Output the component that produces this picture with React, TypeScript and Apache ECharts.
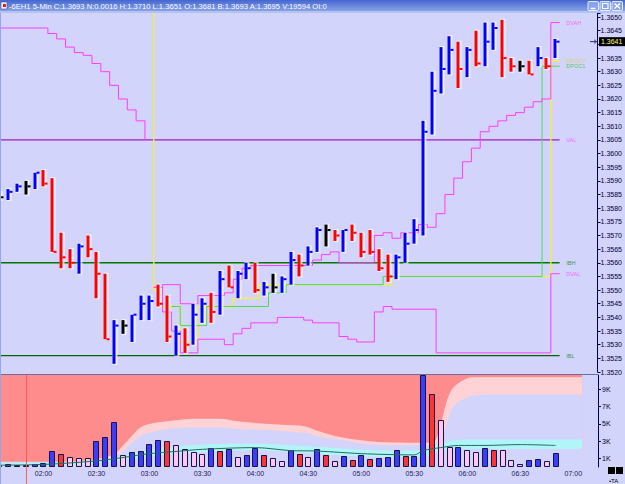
import React, { useEffect, useRef } from 'react';
import * as echarts from 'echarts';

// ---------------- data ----------------
const titleText = '-6EH1 5-Min C:1.3693 N:0.0016 H:1.3710 L:1.3651 O:1.3681 B:1.3693 A:1.3695 V:19594 OI:0';

const barTimes = [
  '01:35', '01:40', '01:45', '01:50', '01:55', '02:00', '02:05', '02:10', '02:15', '02:20',
  '02:25', '02:30', '02:35', '02:40', '02:45', '02:50', '02:55', '03:00', '03:05', '03:10',
  '03:15', '03:20', '03:25', '03:30', '03:35', '03:40', '03:45', '03:50', '03:55', '04:00',
  '04:05', '04:10', '04:15', '04:20', '04:25', '04:30', '04:35', '04:40', '04:45', '04:50',
  '04:55', '05:00', '05:05', '05:10', '05:15', '05:20', '05:25', '05:30', '05:35', '05:40',
  '05:45', '05:50', '05:55', '06:00', '06:05', '06:10', '06:15', '06:20', '06:25', '06:30',
  '06:35', '06:40', '06:45', '06:50',
];
const opens = [
  1.3584, 1.3583, 1.3586, 1.3588, 1.3587, 1.3593, 1.3590, 1.3570, 1.3564, 1.3558,
  1.3569, 1.3563, 1.3555, 1.3530, 1.3537, 1.3532, 1.3540, 1.3540, 1.3551, 1.3547,
  1.3527, 1.3535, 1.3531, 1.3539, 1.3548, 1.3542, 1.3558, 1.3548, 1.3555, 1.3559,
  1.3549, 1.3551, 1.3550, 1.3553, 1.3562, 1.3560, 1.3565, 1.3572, 1.3572, 1.3565,
  1.3574, 1.3570, 1.3571, 1.3564, 1.3562, 1.3555, 1.3561, 1.3567, 1.3572, 1.3608,
  1.3623, 1.3630, 1.3640, 1.3630, 1.3644, 1.3633, 1.3640, 1.3648, 1.3635, 1.3632,
  1.3633, 1.3632, 1.3634, 1.3635,
];
const highs = [
  1.3586, 1.3587, 1.3589, 1.3590, 1.3593, 1.3594, 1.3591, 1.3571, 1.3565, 1.3567,
  1.3570, 1.3564, 1.3556, 1.3539, 1.3539, 1.3541, 1.3548, 1.3548, 1.3552, 1.3548,
  1.3537, 1.3536, 1.3545, 1.3547, 1.3549, 1.3557, 1.3559, 1.3557, 1.3560, 1.3560,
  1.3553, 1.3556, 1.3555, 1.3564, 1.3563, 1.3566, 1.3573, 1.3574, 1.3572, 1.3572,
  1.3574, 1.3571, 1.3572, 1.3565, 1.3563, 1.3563, 1.3571, 1.3576, 1.3612, 1.3630,
  1.3639, 1.3643, 1.3641, 1.3639, 1.3645, 1.3648, 1.3648, 1.3649, 1.3635, 1.3634,
  1.3634, 1.3639, 1.3635, 1.3642,
];
const lows = [
  1.3583, 1.3583, 1.3586, 1.3585, 1.3587, 1.3588, 1.3564, 1.3558, 1.3558, 1.3556,
  1.3562, 1.3547, 1.3532, 1.3523, 1.3534, 1.3531, 1.3539, 1.3539, 1.3544, 1.3531,
  1.3526, 1.3527, 1.3530, 1.3538, 1.3538, 1.3541, 1.3551, 1.3547, 1.3554, 1.3549,
  1.3548, 1.3549, 1.3549, 1.3552, 1.3555, 1.3559, 1.3564, 1.3566, 1.3568, 1.3564,
  1.3568, 1.3562, 1.3563, 1.3557, 1.3553, 1.3554, 1.3560, 1.3567, 1.3570, 1.3607,
  1.3622, 1.3629, 1.3624, 1.3628, 1.3632, 1.3632, 1.3638, 1.3628, 1.3630, 1.3630,
  1.3629, 1.3632, 1.3631, 1.3635,
];
const closes = [
  1.3584, 1.3586, 1.3588, 1.3588, 1.3593, 1.3589, 1.3564, 1.3562, 1.3560, 1.3566,
  1.3565, 1.3556, 1.3532, 1.3537, 1.3537, 1.3541, 1.3545, 1.3546, 1.3545, 1.3533,
  1.3534, 1.3530, 1.3541, 1.3545, 1.3542, 1.3554, 1.3551, 1.3556, 1.3558, 1.3550,
  1.3551, 1.3551, 1.3554, 1.3561, 1.3559, 1.3564, 1.3572, 1.3572, 1.3570, 1.3572,
  1.3571, 1.3564, 1.3564, 1.3558, 1.3555, 1.3562, 1.3567, 1.3572, 1.3608, 1.3623,
  1.3631, 1.3638, 1.3631, 1.3638, 1.3633, 1.3641, 1.3646, 1.3635, 1.3632, 1.3632,
  1.3629, 1.3635, 1.3632, 1.3641,
];
const volumes = [
  250, 300, 250, 250, 350, 500, 1800, 1500, 1150, 1100,
  1000, 3000, 3500, 5200, 1400, 1700, 1800, 2700, 3100, 3000,
  2600, 2100, 1700, 1500, 2200, 1900, 2100, 1150, 1350, 2200,
  1350, 1000, 750, 2000, 1550, 1200, 2100, 1400, 700, 1250,
  850, 1400, 950, 1100, 1200, 2000, 1250, 1250, 10800, 8500,
  5400, 2300, 2300, 2000, 1750, 2250, 2000, 2000, 850, 400,
  850, 950, 650, 1600,
];
// u = up (blue), d = down (red), s = soft (pink)
const volumeTones = [
  'u', 'u', 'u', 'u', 'u', 'u', 'u', 'd', 's', 's',
  's', 'u', 'u', 'u', 's', 'u', 'u', 'u', 'u', 'd',
  's', 's', 's', 's', 'u', 'd', 'u', 's', 'u', 'u',
  'd', 's', 's', 'u', 'd', 's', 'u', 'd', 's', 'u',
  'd', 'u', 'd', 'u', 'u', 'u', 'd', 'u', 'u', 'd',
  's', 's', 'u', 's', 's', 'u', 'd', 's', 's', 's',
  'u', 'u', 's', 'u',
];

// step lines: [bar time where the new level begins, price]
const priorValSteps: [string, number][] = [
  ['01:30', 1.3646], ['02:05', 1.3644], ['02:10', 1.3642], ['02:15', 1.3639], ['02:20', 1.3637],
  ['02:25', 1.3636], ['02:30', 1.3633], ['02:35', 1.3630], ['02:40', 1.3625], ['02:45', 1.3620],
  ['02:50', 1.3616], ['02:55', 1.3612], ['03:00', 1.3605],
];
const vahDevSteps: [string, number][] = [
  ['03:05', 1.3551], ['03:10', 1.3552], ['03:20', 1.3545], ['03:30', 1.3548], ['03:45', 1.3549],
  ['03:50', 1.3554], ['03:55', 1.3558], ['04:00', 1.3559], ['04:35', 1.3561], ['04:40', 1.3563],
  ['04:45', 1.3564], ['04:50', 1.3560], ['05:10', 1.3570], ['05:15', 1.3571], ['05:20', 1.3569],
  ['05:25', 1.3571], ['05:35', 1.3574], ['05:40', 1.3573], ['05:45', 1.3578], ['05:50', 1.3585],
  ['05:55', 1.3591], ['06:00', 1.3597], ['06:05', 1.3602], ['06:10', 1.3608], ['06:15', 1.3610],
  ['06:20', 1.3612], ['06:25', 1.3614], ['06:30', 1.3615], ['06:35', 1.3617], ['06:40', 1.3619],
  ['06:45', 1.3620], ['06:50', 1.3648], ['06:55', 1.3648],
];
const valDevSteps: [string, number][] = [
  ['03:05', 1.3551], ['03:10', 1.3542], ['03:15', 1.3535], ['03:20', 1.3527], ['03:30', 1.3532],
  ['03:45', 1.3530], ['03:50', 1.3534], ['03:55', 1.3536], ['04:00', 1.3538], ['04:15', 1.3540],
  ['04:30', 1.3539], ['04:35', 1.3538], ['04:50', 1.3533], ['04:55', 1.3532], ['05:00', 1.3531],
  ['05:10', 1.3542], ['05:15', 1.3544], ['05:20', 1.3543], ['05:45', 1.3527], ['06:50', 1.3556],
  ['06:55', 1.3556],
];
const pocYSteps: [string, number][] = [
  ['01:30', 1.3700], ['03:05', 1.3550], ['03:10', 1.3544], ['03:20', 1.3531], ['03:30', 1.3544],
  ['03:50', 1.3547], ['04:05', 1.3552], ['05:20', 1.3555], ['06:50', 1.3634], ['06:55', 1.3634],
];
const poc1Steps: [string, number][] = [
  ['03:15', 1.3544], ['03:20', 1.3537], ['03:35', 1.3544], ['04:10', 1.3549], ['04:20', 1.3552],
  ['05:15', 1.3555], ['06:45', 1.3632], ['06:55', 1.3632],
];

const refLevelNames = ['VAL', 'IBH', 'IBL'];
const refLevelPrices = [1.3605, 1.3560, 1.3526];
const refLevelSpan = ['01:30', '06:55'];

const tagNames = ['DVAH', 'DPOCY', 'DPOC1', 'VAL', 'IBH', 'DVAL', 'IBL'];
const tagPrices = [1.3648, 1.3634, 1.3632, 1.3605, 1.3560, 1.3556, 1.3526];
const tagTime = '06:56';

const timeTicks = ['02:00', '02:30', '03:00', '03:30', '04:00', '04:30', '05:00', '05:30', '06:00', '06:30', '07:00'];
const volumeTicks = [1000, 3000, 5000, 7000, 9000];

const lastPrice = 1.3641;
const sessionMark = '01:50';

// volume pane bands
const bandSpan = ['01:30', '07:05'];
const pinkTop: [string, number][] = [
  ['01:30', 600], ['02:15', 650], ['02:30', 900], ['02:40', 1500], ['02:45', 2500], ['02:50', 3600],
  ['02:55', 4600], ['03:00', 5000], ['03:10', 5300], ['03:25', 5600], ['03:40', 5600], ['03:50', 5300],
  ['04:00', 5100], ['04:15', 4900], ['04:25', 4800], ['04:30', 4600], ['04:35', 4200], ['04:45', 3600],
  ['05:00', 3100], ['05:10', 2900], ['05:40', 2800], ['05:45', 5000], ['05:48', 7400], ['05:52', 9200],
  ['06:00', 10300], ['06:05', 10400], ['07:05', 10400],
];
const lavTop: [string, number][] = [
  ['01:30', 550], ['02:15', 600], ['02:30', 750], ['02:40', 1200], ['02:45', 1800], ['02:50', 2800],
  ['02:55', 3600], ['03:00', 4000], ['03:10', 4400], ['03:25', 4600], ['03:40', 4600], ['03:50', 4400],
  ['04:05', 4300], ['04:20', 4100], ['04:30', 3900], ['04:35', 3500], ['04:50', 3100], ['05:05', 2600],
  ['05:40', 2500], ['05:45', 3200], ['05:48', 4800], ['05:52', 7000], ['06:00', 8100], ['06:10', 8400],
  ['07:05', 8400],
];
const cyanTop: [string, number][] = [
  ['01:30', 500], ['02:20', 550], ['02:30', 700], ['02:45', 1300], ['03:00', 2000], ['03:30', 2600],
  ['04:00', 2700], ['04:30', 2400], ['05:00', 2000], ['05:35', 1900], ['05:45', 2800], ['06:00', 3200],
  ['07:05', 3200],
];
const cyanBottom: [string, number][] = [
  ['01:30', 150], ['02:20', 200], ['02:30', 450], ['02:45', 800], ['03:00', 1200], ['03:30', 1750],
  ['04:00', 1950], ['04:30', 1600], ['05:00', 1250], ['05:35', 1150], ['05:45', 1900], ['06:00', 2100],
  ['07:05', 2100],
];
const volAvg: [string, number][] = [
  ['01:30', 200], ['02:00', 300], ['02:30', 700], ['02:45', 1100], ['03:00', 1550], ['03:15', 1800],
  ['03:30', 2050], ['04:00', 2250], ['04:20', 1900], ['04:35', 1850], ['05:00', 1550], ['05:30', 1400],
  ['05:35', 1900], ['05:45', 2250], ['05:55', 2500], ['06:10', 2500], ['06:30', 2600], ['06:50', 2500],
];

// ---------------- helpers / styles ----------------
const FONT = '"Liberation Sans", Arial, sans-serif';
const BG = '#d3d4fb';
const tm = (s: string) => {
  const [h, m] = s.split(':').map(Number);
  return h * 60 + m;
};
const pad = (n: number) => (n < 10 ? '0' + n : '' + n);
const stepData = (steps: [string, number][]) => steps.map(([t, p]) => [tm(t) - 2.5, p]);
const curve = (pts: [string, number][]) => pts.map(([t, v]) => [tm(t), v]);

// x scale: 1.76593 px per minute, 02:00 at x = 43.5, plot from x = 0 to 598
const X_MIN = 95.367;
const X_MAX = 434;
const GRID_W = 598;
const PRICE_MIN = 1.352;
const PRICE_MAX = 1.36515;
const VOL_MAX = 10670;

const tagColors: Record<string, string> = {
  DVAH: '#ff40ff', DPOCY: '#d0d040', DPOC1: '#30c030', VAL: '#ff40ff', IBH: '#108010', DVAL: '#ff40ff', IBL: '#108010',
};
const refColors: Record<string, string> = { VAL: '#a818c0', IBH: '#007800', IBL: '#006400' };
const toneFill: Record<string, string> = { u: '#3c3cff', d: '#ff3434', s: '#ffc6f2' };

function buildOption(): any {
  const xAxisBase = { type: 'value', min: X_MIN, max: X_MAX, splitLine: { show: false } };
  const stepSeries = (name: string, steps: [string, number][], color: string, z = 3, width = 1) => ({
    name, type: 'line', xAxisIndex: 0, yAxisIndex: 0, step: 'end', data: stepData(steps),
    symbol: 'none', silent: true, lineStyle: { color, width }, z,
  });
  const areaSeries = (pts: [string, number][], color: string, z: number) => ({
    type: 'line', xAxisIndex: 1, yAxisIndex: 1, data: curve(pts), smooth: 0.3, symbol: 'none', silent: true,
    lineStyle: { width: 0, opacity: 0 }, areaStyle: { color, opacity: 1 }, z,
  });
  const timeTickValues = timeTicks.map(tm);

  return {
    animation: false,
    backgroundColor: BG,
    grid: [
      { left: 0, top: 13, width: GRID_W, height: 359 },
      { left: 0, top: 375, width: GRID_W, height: 92 },
    ],
    xAxis: [
      { ...xAxisBase, gridIndex: 0, show: false },
      {
        ...xAxisBase, gridIndex: 1,
        axisLine: { show: false }, axisTick: { show: false, customValues: timeTickValues },
        axisLabel: {
          fontSize: 7, color: '#1a1a5a', fontFamily: FONT, margin: 3,
          customValues: timeTickValues,
          formatter: (v: number) => {
            const r = Math.round(v);
            return r >= 120 && r % 30 === 0 ? `${pad(Math.floor(r / 60))}:${pad(r % 60)}` : '';
          },
        },
      },
    ],
    yAxis: [
      {
        type: 'value', gridIndex: 0, position: 'right', min: PRICE_MIN, max: PRICE_MAX, interval: 0.0005,
        splitLine: { show: false },
        axisLine: { show: true, lineStyle: { color: '#000050' } },
        axisTick: { show: true, length: 3, lineStyle: { color: '#000050' } },
        axisLabel: {
          fontSize: 7, color: '#000033', fontFamily: FONT, margin: 3,
          formatter: (v: number) => {
            const r = Math.round(v * 2000);
            if (Math.abs(v * 2000 - r) > 1e-3) return '';
            if (Math.abs(r / 2000 - lastPrice) < 0.0002) return '';
            return (r / 2000).toFixed(4);
          },
        },
      },
      {
        type: 'value', gridIndex: 1, position: 'right', min: 0, max: VOL_MAX, interval: 1000,
        splitLine: { show: false },
        axisLine: { show: true, lineStyle: { color: '#000050' } },
        axisTick: { show: true, length: 3, lineStyle: { color: '#000050' }, customValues: volumeTicks },
        axisLabel: {
          fontSize: 7, color: '#000033', fontFamily: FONT, margin: 4,
          customValues: volumeTicks,
          formatter: (v: number) => (Math.round(v) % 2000 === 1000 ? Math.round(v / 1000) + 'K' : ''),
        },
      },
    ],
    series: [
      // reference horizontal levels
      ...refLevelNames.map((n, i) => ({
        name: n, type: 'line', xAxisIndex: 0, yAxisIndex: 0, symbol: 'none', silent: true, z: 2,
        data: [[tm(refLevelSpan[0]), refLevelPrices[i]], [tm(refLevelSpan[1]) - 2.5, refLevelPrices[i]]],
        lineStyle: { color: refColors[n], width: n === 'IBH' ? 1.4 : 1.2 },
      })),
      stepSeries('priorVal', priorValSteps, '#ff3cff'),
      stepSeries('pocY', pocYSteps, '#f2f236', 3, 1.3),
      stepSeries('poc1', poc1Steps, '#4cdc4c'),
      stepSeries('vahDev', vahDevSteps, '#ff3cff', 4),
      stepSeries('valDev', valDevSteps, '#ff3cff', 4),
      {
        name: 'bars', type: 'custom', xAxisIndex: 0, yAxisIndex: 0, z: 6, silent: true,
        data: barTimes.map((t, i) => [tm(t), opens[i], highs[i], lows[i], closes[i]]),
        encode: { x: 0, y: [1, 2, 3, 4] },
        renderItem: (params: any, api: any) => {
          const x = api.value(0), o = api.value(1), h = api.value(2), l = api.value(3), c = api.value(4);
          const top = api.coord([x, h]);
          const bot = api.coord([x, l]);
          const cl = api.coord([x, c]);
          const col = c > o + 1e-9 ? '#0000ff' : c < o - 1e-9 ? '#ff0000' : '#000000';
          const cx = Math.round(top[0]);
          const hgt = Math.max(bot[1] - top[1], 2);
          return {
            type: 'group',
            children: [
              { type: 'rect', shape: { x: cx - 1.5, y: top[1] - 1, width: 5, height: hgt + 2 }, style: { fill: 'rgba(255,255,255,0.7)' } },
              { type: 'rect', shape: { x: cx - 1.5, y: top[1], width: 3, height: hgt }, style: { fill: col } },
              { type: 'rect', shape: { x: cx + 1.5, y: cl[1] - 1, width: 3, height: 2 }, style: { fill: col } },
            ],
          };
        },
      },
      {
        name: 'tags', type: 'scatter', xAxisIndex: 0, yAxisIndex: 0, symbolSize: 1, silent: true, z: 10,
        itemStyle: { color: 'transparent' },
        data: tagNames.map((n, i) => ({ name: n, value: [tm(tagTime), tagPrices[i]], label: { color: tagColors[n] } })),
        label: { show: true, position: 'right', distance: 0, formatter: '{b}', fontSize: 5.5, fontFamily: FONT },
      },
      // volume pane
      {
        type: 'line', xAxisIndex: 1, yAxisIndex: 1, symbol: 'none', silent: true, z: 1,
        data: [[tm(bandSpan[0]), VOL_MAX], [tm(bandSpan[1]), VOL_MAX]],
        lineStyle: { width: 0, opacity: 0 }, areaStyle: { color: '#ff8c8c', opacity: 1 },
      },
      areaSeries(pinkTop, '#ffd2d6', 2),
      areaSeries(lavTop, BG, 3),
      areaSeries(cyanTop, '#b0f6f8', 4),
      areaSeries(cyanBottom, BG, 5),
      {
        name: 'volume', type: 'custom', xAxisIndex: 1, yAxisIndex: 1, z: 6, silent: true,
        data: barTimes.map((t, i) => [tm(t), volumes[i], i]),
        encode: { x: 0, y: 1 },
        renderItem: (params: any, api: any) => {
          const x = api.value(0), v = api.value(1), idx = api.value(2);
          const p0 = api.coord([x, 0]);
          const p1 = api.coord([x, v]);
          const yTop = Math.max(p1[1], params.coordSys.y);
          return {
            type: 'rect',
            shape: { x: Math.round(p0[0] - 3) + 0.5, y: Math.round(yTop) + 0.5, width: 5, height: Math.round(p0[1] - yTop) - 1 },
            style: { fill: toneFill[volumeTones[idx]], stroke: '#14144a', lineWidth: 1 },
          };
        },
      },
      {
        name: 'avg', type: 'line', xAxisIndex: 1, yAxisIndex: 1, symbol: 'none', silent: true, z: 7,
        data: curve(volAvg), smooth: 0.3, lineStyle: { color: '#2a6a5c', width: 1 },
      },
    ],
  };
}

function chrome(yLast: number, xMark: number): any[] {
  const white = '#ffffff';
  const btnFill = '#8aa4ea';
  return [
    {
      type: 'rect', id: 'titlebar', z: 100, shape: { x: 0, y: 0, width: 625, height: 11 },
      style: { fill: new echarts.graphic.LinearGradient(0, 0, 0, 1, [{ offset: 0, color: '#4466d0' }, { offset: 1, color: '#88a2e8' }]) },
    },
    { type: 'rect', id: 'stripe', z: 100, shape: { x: 0, y: 11, width: 625, height: 2 }, style: { fill: '#b2c2f2' } },
    { type: 'rect', id: 'icon', z: 101, shape: { x: 1, y: 2, width: 6, height: 7 }, style: { fill: '#f2f2f2', stroke: '#404080', lineWidth: 0.5 } },
    { type: 'rect', id: 'icon2', z: 102, shape: { x: 3, y: 4, width: 3, height: 3 }, style: { fill: '#e02020' } },
    {
      type: 'text', id: 'title', z: 101, x: 9, y: 6,
      style: { text: titleText, fill: white, font: `7.6px ${FONT}`, textVerticalAlign: 'middle' },
    },
    { type: 'rect', id: 'b1', z: 101, shape: { x: 588, y: 1.5, width: 10.5, height: 9, r: 1 }, style: { fill: btnFill, stroke: white, lineWidth: 0.8 } },
    { type: 'line', id: 'b1g', z: 102, shape: { x1: 590.5, y1: 8.5, x2: 595.5, y2: 8.5 }, style: { stroke: white, lineWidth: 1.5 } },
    { type: 'rect', id: 'b2', z: 101, shape: { x: 600, y: 1.5, width: 10.5, height: 9, r: 1 }, style: { fill: btnFill, stroke: white, lineWidth: 0.8 } },
    { type: 'rect', id: 'b2g', z: 102, shape: { x: 602.5, y: 3.5, width: 5.5, height: 5 }, style: { fill: 'none', stroke: white, lineWidth: 1.2 } },
    { type: 'rect', id: 'b3', z: 101, shape: { x: 612, y: 1.5, width: 10.5, height: 9, r: 1 }, style: { fill: btnFill, stroke: white, lineWidth: 0.8 } },
    { type: 'line', id: 'b3a', z: 102, shape: { x1: 614.5, y1: 3.5, x2: 620, y2: 8.5 }, style: { stroke: white, lineWidth: 1.4 } },
    { type: 'line', id: 'b3b', z: 102, shape: { x1: 620, y1: 3.5, x2: 614.5, y2: 8.5 }, style: { stroke: white, lineWidth: 1.4 } },
    { type: 'line', id: 'sep', z: 100, shape: { x1: 0, y1: 374.5, x2: 598, y2: 374.5 }, style: { stroke: '#6c6ca8', lineWidth: 1 } },
    { type: 'line', id: 'leftb', z: 100, shape: { x1: 0.5, y1: 13, x2: 0.5, y2: 484 }, style: { stroke: '#8fa8ec', lineWidth: 1 } },
    { type: 'rect', id: 'sq1', z: 100, shape: { x: 608, y: 467, width: 7, height: 7 }, style: { fill: '#000000' } },
    { type: 'rect', id: 'sq2', z: 100, shape: { x: 616, y: 467, width: 7, height: 7 }, style: { fill: '#000000' } },
    { type: 'text', id: 'ta', z: 100, x: 609, y: 481, style: { text: '•TA', fill: '#000000', font: `6px ${FONT}`, textVerticalAlign: 'middle' } },
    { type: 'line', id: 'sess', z: 99, shape: { x1: xMark, y1: 375, x2: xMark, y2: 484 }, style: { stroke: '#ff5a5a', lineWidth: 1 } },
    { type: 'rect', id: 'lastbox', z: 100, shape: { x: 599, y: yLast - 4.5, width: 26, height: 9 }, style: { fill: '#000000' } },
    {
      type: 'text', id: 'lasttxt', z: 101, x: 601, y: yLast,
      style: { text: lastPrice.toFixed(4), fill: '#ffff88', font: `7px ${FONT}`, textVerticalAlign: 'middle' },
    },
    { type: 'line', id: 'arr1', z: 100, shape: { x1: 590, y1: yLast, x2: 597, y2: yLast }, style: { stroke: '#303050', lineWidth: 1 } },
    { type: 'line', id: 'arr2', z: 100, shape: { x1: 595, y1: yLast - 2, x2: 595, y2: yLast + 2 }, style: { stroke: '#303050', lineWidth: 1 } },
  ];
}

export default function App() {
  const ref = useRef<HTMLDivElement>(null);
  useEffect(() => {
    if (!ref.current) return;
    const chart = echarts.init(ref.current, null, { renderer: 'svg' });
    chart.setOption(buildOption());
    const yLast = chart.convertToPixel({ yAxisIndex: 0 } as any, lastPrice) as unknown as number;
    const xMark = chart.convertToPixel({ xAxisIndex: 1 } as any, tm(sessionMark)) as unknown as number;
    chart.setOption({ graphic: chrome(yLast, Math.round(xMark) + 0.5) });
    return () => chart.dispose();
  }, []);
  return (
    <div
      ref={ref}
      style={{ position: 'fixed', left: 0, top: 0, width: 625, height: 484, background: BG }}
    />
  );
}
